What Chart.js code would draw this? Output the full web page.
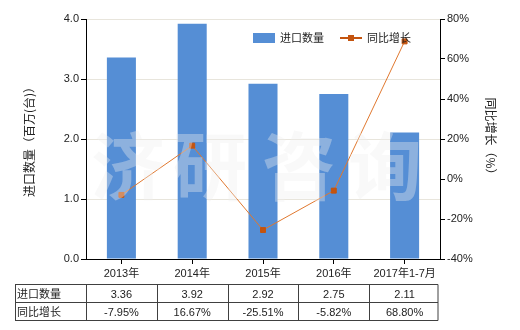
<!DOCTYPE html>
<html>
<head>
<meta charset="utf-8">
<script src="https://cdn.jsdelivr.net/npm/chart.js@4"></script>
<style>
  html, body { margin: 0; padding: 0; background: #fff; }
  #wrap { width: 520px; height: 330px; position: relative; }
</style>
</head>
<body>
<div id="wrap"><canvas id="c" width="520" height="330"></canvas></div>
<script>
const categories = ['2013年', '2014年', '2015年', '2016年', '2017年1-7月'];
const importQty = [3.36, 3.92, 2.92, 2.75, 2.11];
const yoyGrowth = [-7.95, 16.67, -25.51, -5.82, 68.80];
const qtyLabels = ['3.36', '3.92', '2.92', '2.75', '2.11'];
const growthLabels = ['-7.95%', '16.67%', '-25.51%', '-5.82%', '68.80%'];
const seriesNames = ['进口数量', '同比增长'];
const leftTitle = '进口数量（百万(台)）';
const rightTitle = '同比增长（%）';
const watermark = ['济', '研', '咨', '询'];

const BAR_COLOR = '#558ed5';
const LINE_COLOR = '#e0782f';
const MARK_COLOR = '#c4540f';
const FONT = '"Liberation Sans", "Noto Sans CJK SC", sans-serif';
const CJK = '"Noto Sans CJK SC", sans-serif';

const watermarkPlugin = {
  id: 'watermark',
  afterDraw(chart) {
    const ctx = chart.ctx;
    ctx.save();
    ctx.font = 'bold 74px ' + CJK;
    ctx.fillStyle = 'rgba(240,240,240,0.37)';
    ctx.textAlign = 'center';
    ctx.textBaseline = 'middle';
    const xs = [128, 210, 299, 385];
    watermark.forEach((ch, i) => ctx.fillText(ch, xs[i], 166));
    ctx.restore();
  }
};

const tablePlugin = {
  id: 'table',
  afterDraw(chart) {
    const ctx = chart.ctx;
    const xs = chart.scales.x;
    const left = 15;
    const firstRight = chart.chartArea.left;
    const half = (xs.getPixelForValue(1) - xs.getPixelForValue(0)) / 2;
    const right = xs.getPixelForValue(categories.length - 1) + half - 2;
    const top = 284.5, mid = 302.5, bot = 320.5;
    ctx.save();
    ctx.strokeStyle = '#404040';
    ctx.lineWidth = 1;
    ctx.beginPath();
    [top, mid, bot].forEach(y => { ctx.moveTo(left, y); ctx.lineTo(right, y); });
    ctx.moveTo(left + 0.5, top); ctx.lineTo(left + 0.5, bot);
    ctx.moveTo(firstRight + 0.5, top); ctx.lineTo(firstRight + 0.5, bot);
    for (let i = 0; i < categories.length; i++) {
      const xr = Math.round(xs.getPixelForValue(i) + half) + 0.5;
      const xx = i === categories.length - 1 ? right : xr;
      ctx.moveTo(xx, top); ctx.lineTo(xx, bot);
    }
    ctx.stroke();
    ctx.fillStyle = '#222';
    ctx.textBaseline = 'middle';
    ctx.font = '11px ' + CJK;
    ctx.textAlign = 'left';
    ctx.fillText(seriesNames[0], 17, (top + mid) / 2);
    ctx.fillText(seriesNames[1], 17, (mid + bot) / 2);
    ctx.font = '11px ' + FONT;
    ctx.textAlign = 'center';
    for (let i = 0; i < categories.length; i++) {
      const cx = xs.getPixelForValue(i);
      ctx.fillText(qtyLabels[i], cx, (top + mid) / 2 + 1);
      ctx.fillText(growthLabels[i], cx, (mid + bot) / 2 + 1);
    }
    ctx.restore();
  }
};

const legendPlugin = {
  id: 'customLegend',
  afterDraw(chart) {
    const ctx = chart.ctx;
    ctx.save();
    ctx.fillStyle = BAR_COLOR;
    ctx.fillRect(253, 33, 22, 10);
    ctx.fillStyle = '#222';
    ctx.font = '11px ' + CJK;
    ctx.textBaseline = 'middle';
    ctx.textAlign = 'left';
    ctx.fillText(seriesNames[0], 280, 38);
    ctx.strokeStyle = '#c4540f';
    ctx.lineWidth = 2;
    ctx.beginPath(); ctx.moveTo(340, 38); ctx.lineTo(362, 38); ctx.stroke();
    ctx.fillStyle = MARK_COLOR;
    ctx.fillRect(348, 35, 6, 6);
    ctx.fillStyle = '#222';
    ctx.fillText(seriesNames[1], 367, 38);
    ctx.restore();
  }
};

new Chart(document.getElementById('c'), {
  data: {
    labels: categories,
    datasets: [
      {
        type: 'line',
        label: seriesNames[1],
        data: yoyGrowth,
        yAxisID: 'y2',
        borderColor: LINE_COLOR,
        borderWidth: 1,
        pointStyle: 'rect',
        pointRadius: 3.5,
        pointBackgroundColor: MARK_COLOR,
        pointBorderColor: MARK_COLOR,
        tension: 0,
        order: 0
      },
      {
        type: 'bar',
        label: seriesNames[0],
        data: importQty,
        yAxisID: 'y',
        backgroundColor: BAR_COLOR,
        barPercentage: 0.41,
        categoryPercentage: 1.0,
        order: 1
      }
    ]
  },
  plugins: [tablePlugin, legendPlugin, watermarkPlugin],
  options: {
    responsive: false,
    animation: false,
    devicePixelRatio: 1,
    layout: { padding: { top: 19, left: 0, right: 0, bottom: 0 } },
    plugins: { legend: { display: false }, tooltip: { enabled: false } },
    scales: {
      x: {
        position: 'bottom',
        afterFit(s) { s.height = 71; },
        grid: { display: true, drawOnChartArea: false, drawTicks: true, tickLength: 5, offset: false, tickColor: '#000' },
        border: { display: true, color: '#000', width: 1 },
        ticks: { color: '#222', font: { size: 11, family: FONT }, padding: 3, maxRotation: 0, autoSkip: false }
      },
      y: {
        position: 'left',
        min: 0, max: 4,
        afterFit(s) { s.width = 86; },
        ticks: { stepSize: 1, color: '#222', font: { size: 11, family: FONT }, padding: 2,
                 callback: v => v.toFixed(1) },
        grid: { color: '#e8e5dc', tickColor: '#000', tickLength: 5, drawTicks: true },
        border: { display: true, color: '#000', width: 1 },
        title: { display: true, text: leftTitle, color: '#222', font: { size: 12, family: CJK }, padding: { top: 22, bottom: 0 } }
      },
      y2: {
        position: 'right',
        min: -40, max: 80,
        afterFit(s) { s.width = 80; },
        ticks: { stepSize: 20, color: '#222', font: { size: 11, family: FONT }, padding: 2,
                 callback: v => v + '%' },
        grid: { drawOnChartArea: false, tickColor: '#000', tickLength: 5, drawTicks: true },
        border: { display: true, color: '#000', width: 1 },
        title: { display: true, text: rightTitle, color: '#222', font: { size: 12, family: CJK }, padding: { top: 22, bottom: 0 } }
      }
    }
  }
});
</script>
</body>
</html>
